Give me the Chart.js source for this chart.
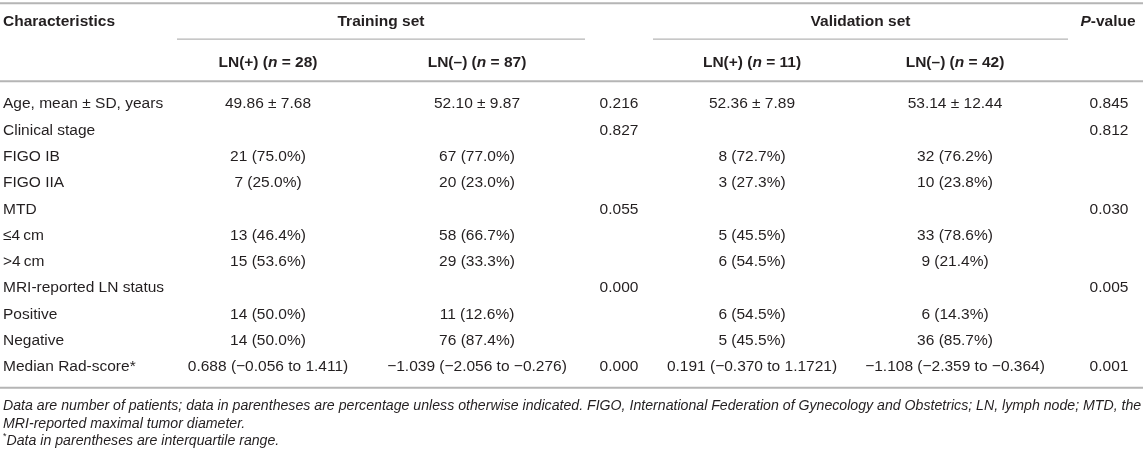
<!DOCTYPE html>
<html>
<head>
<meta charset="utf-8">
<script src="https://cdn.jsdelivr.net/npm/chart.js@4/dist/chart.umd.min.js"></script>
<style>
html,body{margin:0;padding:0;background:#fff;}
#wrap{width:1143px;height:456px;position:relative;}
</style>
</head>
<body>
<div id="wrap"><canvas id="c" width="1143" height="456"></canvas></div>
<script>
// ---------- DATA ----------
const rowLabels = [
  'Age, mean \u00B1 SD, years',
  'Clinical stage',
  'FIGO IB',
  'FIGO IIA',
  'MTD',
  '\u22644\u2009cm',
  '>4\u2009cm',
  'MRI-reported LN status',
  'Positive',
  'Negative',
  'Median Rad-score*'
];
const groupHeaders = ['Training set', 'Validation set'];
const subGroupNames = ['LN(+)', 'LN(\u2013)', 'LN(+)', 'LN(\u2013)'];
const subGroupN = [28, 87, 11, 42];

const trainPos = ['49.86 \u00B1 7.68', '', '21 (75.0%)', '7 (25.0%)', '', '13 (46.4%)', '15 (53.6%)', '', '14 (50.0%)', '14 (50.0%)', '0.688 (\u22120.056 to 1.411)'];
const trainNeg = ['52.10 \u00B1 9.87', '', '67 (77.0%)', '20 (23.0%)', '', '58 (66.7%)', '29 (33.3%)', '', '11 (12.6%)', '76 (87.4%)', '\u22121.039 (\u22122.056 to \u22120.276)'];
const trainP   = ['0.216', '0.827', '', '', '0.055', '', '', '0.000', '', '', '0.000'];
const valPos   = ['52.36 \u00B1 7.89', '', '8 (72.7%)', '3 (27.3%)', '', '5 (45.5%)', '6 (54.5%)', '', '6 (54.5%)', '5 (45.5%)', '0.191 (\u22120.370 to 1.1721)'];
const valNeg   = ['53.14 \u00B1 12.44', '', '32 (76.2%)', '10 (23.8%)', '', '33 (78.6%)', '9 (21.4%)', '', '6 (14.3%)', '36 (85.7%)', '\u22121.108 (\u22122.359 to \u22120.364)'];
const valP     = ['0.845', '0.812', '', '', '0.030', '', '', '0.005', '', '', '0.001'];

const footnoteLines = [
  'Data are number of patients; data in parentheses are percentage unless otherwise indicated. FIGO, International Federation of Gynecology and Obstetrics; LN, lymph node; MTD, the',
  'MRI-reported maximal tumor diameter.'
];
const footnoteStar = 'Data in parentheses are interquartile range.';

// ---------- LAYOUT / STYLE ----------
const columns = [trainPos, trainNeg, trainP, valPos, valNeg, valP];
const colX = [268, 477, 619, 752, 955, 1109];      // column centres in x-scale units
const groupSpan = [[177, 585], [653, 1068]];
const pHeaderX = 1108;
const labelX = 3;
const FONT = "'Liberation Sans', Arial, Helvetica, sans-serif";
const TEXT = '#231f20';
const RULE = '#b5b5b5';
const SIZE = 15.5;
const FOOT_SIZE = 14.15;

function fontStr(size, bold, italic) {
  return (italic ? 'italic ' : '') + (bold ? 'bold ' : '') + size + 'px ' + FONT;
}
function drawRich(ctx, segs, x, y, align, size, bold) {
  const widths = segs.map(s => { ctx.font = fontStr(s.size || size, bold, s.it); return ctx.measureText(s.t).width; });
  const total = widths.reduce((a, b) => a + b, 0);
  let cx = align === 'center' ? x - total / 2 : (align === 'right' ? x - total : x);
  ctx.textAlign = 'left';
  segs.forEach((s, i) => {
    ctx.font = fontStr(s.size || size, bold, s.it);
    ctx.fillText(s.t, cx, y + (s.dy || 0));
    cx += widths[i];
  });
}
function hline(ctx, x1, x2, y, w) {
  ctx.save();
  ctx.strokeStyle = RULE;
  ctx.lineWidth = w;
  ctx.beginPath();
  ctx.moveTo(x1, y);
  ctx.lineTo(x2, y);
  ctx.stroke();
  ctx.restore();
}

const tablePlugin = {
  id: 'tablePlugin',
  afterDraw(chart) {
    const ctx = chart.ctx;
    const xs = chart.scales.x, ys = chart.scales.y;
    const y0 = ys.getPixelForValue(0);
    const yN = ys.getPixelForValue(rowLabels.length - 1);
    const W = chart.width;
    ctx.save();
    ctx.fillStyle = TEXT;
    ctx.textBaseline = 'middle';

    // rules
    hline(ctx, 0, W, y0 - 101, 2);
    hline(ctx, 0, W, y0 - 23, 2);
    hline(ctx, 0, W, yN + 21, 2);
    groupSpan.forEach(sp => hline(ctx, xs.getPixelForValue(sp[0]), xs.getPixelForValue(sp[1]), y0 - 65, 1.2));

    // header row 1
    const h1 = y0 - 82;
    drawRich(ctx, [{t: 'Characteristics'}], xs.getPixelForValue(labelX), h1, 'left', SIZE, true);
    groupHeaders.forEach((g, i) => {
      const cx = xs.getPixelForValue((groupSpan[i][0] + groupSpan[i][1]) / 2);
      drawRich(ctx, [{t: g}], cx, h1, 'center', SIZE, true);
    });
    drawRich(ctx, [{t: 'P', it: true}, {t: '-value'}], xs.getPixelForValue(pHeaderX), h1, 'center', SIZE, true);

    // header row 2
    const h2 = y0 - 41;
    const subCols = [0, 1, 3, 4];
    subGroupNames.forEach((name, i) => {
      drawRich(ctx, [{t: name + ' ('}, {t: 'n', it: true}, {t: ' = ' + subGroupN[i] + ')'}],
        xs.getPixelForValue(colX[subCols[i]]), h2, 'center', SIZE, true);
    });

    // body
    rowLabels.forEach((lab, r) => {
      const y = ys.getPixelForValue(r);
      drawRich(ctx, [{t: lab}], xs.getPixelForValue(labelX), y, 'left', SIZE, false);
      columns.forEach((col, c) => {
        if (col[r]) drawRich(ctx, [{t: col[r]}], xs.getPixelForValue(colX[c]), y, 'center', SIZE, false);
      });
    });

    // footnotes
    const f0 = yN + 39;
    footnoteLines.forEach((line, i) => {
      drawRich(ctx, [{t: line, it: true}], xs.getPixelForValue(labelX), f0 + i * 18, 'left', FOOT_SIZE, false);
    });
    drawRich(ctx, [{t: '*', it: false, size: 9, dy: -4}, {t: footnoteStar, it: true}],
      xs.getPixelForValue(labelX), f0 + 35, 'left', FOOT_SIZE, false);
    ctx.restore();
  }
};

new Chart(document.getElementById('c'), {
  type: 'scatter',
  data: { datasets: [] },
  options: {
    responsive: false,
    animation: false,
    events: [],
    layout: { padding: { top: 91, bottom: 76, left: 0, right: 0 } },
    plugins: { legend: { display: false }, tooltip: { enabled: false }, title: { display: false } },
    scales: {
      x: { type: 'linear', min: 0, max: 1143, display: false },
      y: { type: 'category', labels: rowLabels, offset: true, display: false }
    }
  },
  plugins: [tablePlugin]
});
</script>
</body>
</html>
